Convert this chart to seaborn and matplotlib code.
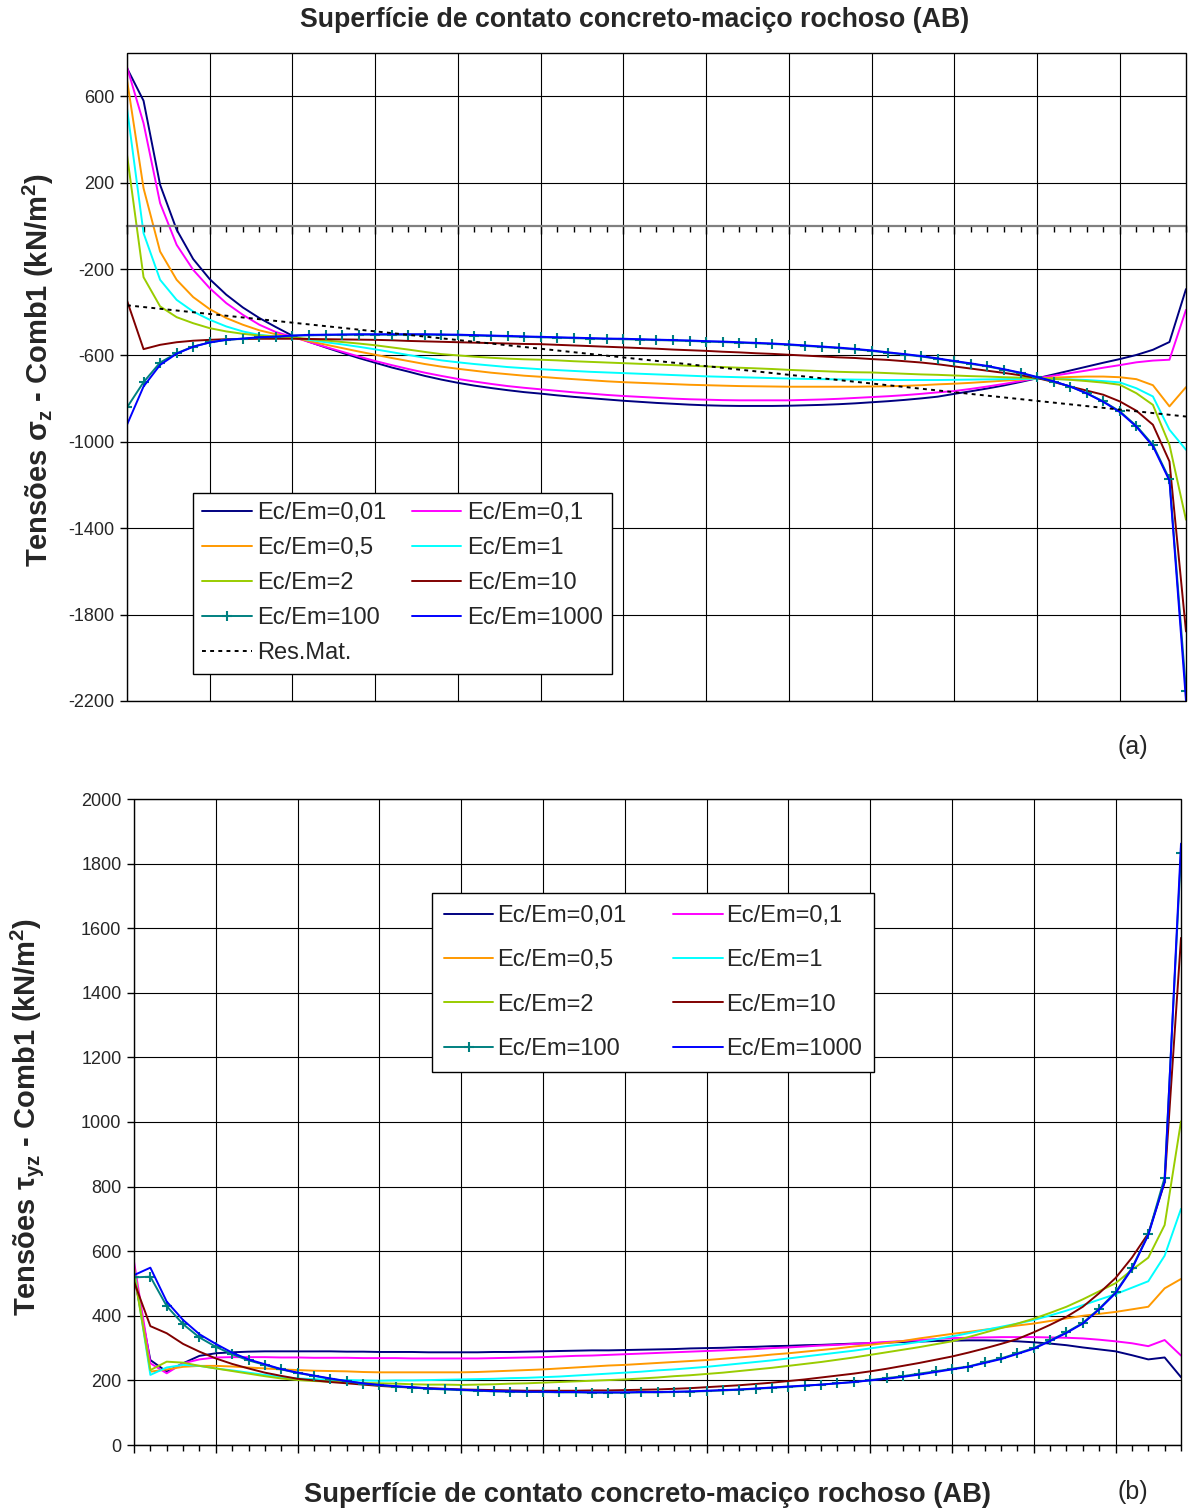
import numpy as np
import pandas as pd
import matplotlib
matplotlib.use("Agg")
import matplotlib.pyplot as plt
from matplotlib.patches import Rectangle
from matplotlib.ticker import MultipleLocator
import seaborn as sns

# pontos ao longo da superficie de contato AB (categorias do eixo x)
pontos = np.arange(65)

rotulos = ["Ec/Em=0,01", "Ec/Em=0,1", "Ec/Em=0,5", "Ec/Em=1",
           "Ec/Em=2", "Ec/Em=10", "Ec/Em=100", "Ec/Em=1000"]
cores = ["#000080", "#FF00FF", "#FF9900", "#00FFFF",
         "#99CC00", "#800000", "#008080", "#0000FF"]

# (a) tensoes sigma_z (kN/m2)
sz_001 = [730, 579, 190, -18, -154, -247, -319, -378, -427, -469,
          -509, -537, -563, -588, -612, -634, -656, -675, -695, -712,
          -727, -740, -751, -761, -770, -777, -785, -792, -798, -804,
          -810, -815, -820, -824, -828, -831, -833, -834, -834, -834,
          -833, -831, -829, -826, -822, -817, -812, -806, -799, -791,
          -778, -766, -753, -739, -723, -706, -688, -670, -652, -634,
          -617, -598, -574, -538, -293]
sz_01 = [735, 475, 105, -88, -204, -289, -358, -412, -458, -492,
         -514, -538, -561, -583, -605, -626, -645, -663, -680, -695,
         -709, -721, -732, -742, -750, -757, -764, -771, -777, -783,
         -788, -792, -796, -800, -803, -805, -807, -808, -808, -808,
         -808, -806, -804, -801, -797, -793, -789, -784, -778, -771,
         -765, -755, -744, -732, -719, -705, -694, -682, -670, -657,
         -645, -632, -624, -620, -389]
sz_05 = [676, 174, -119, -250, -330, -386, -427, -458, -484, -502,
         -516, -534, -550, -566, -582, -597, -612, -626, -640, -652,
         -662, -671, -680, -687, -694, -699, -705, -710, -715, -720,
         -724, -727, -730, -733, -736, -738, -740, -742, -743, -744,
         -745, -745, -745, -745, -745, -744, -743, -741, -738, -734,
         -731, -727, -722, -717, -712, -707, -703, -700, -698, -698,
         -701, -710, -738, -836, -747]
sz_1 = [545, -34, -250, -343, -397, -435, -466, -489, -505, -512,
        -517, -528, -539, -549, -560, -572, -585, -598, -611, -623,
        -632, -640, -647, -654, -659, -664, -668, -672, -676, -679,
        -682, -685, -688, -691, -694, -697, -699, -701, -703, -705,
        -707, -709, -710, -711, -712, -713, -714, -714, -714, -714,
        -713, -712, -711, -710, -709, -708, -709, -711, -714, -719,
        -725, -752, -790, -944, -1037]
sz_2 = [329, -238, -373, -423, -451, -474, -489, -500, -508, -512,
        -517, -524, -531, -538, -545, -553, -563, -573, -584, -594,
        -600, -606, -611, -615, -618, -620, -623, -627, -630, -633,
        -636, -639, -642, -645, -648, -651, -654, -657, -660, -663,
        -667, -670, -673, -676, -678, -679, -682, -685, -688, -690,
        -693, -696, -698, -701, -703, -705, -709, -713, -719, -726,
        -736, -775, -829, -1014, -1361]
sz_10 = [-346, -571, -551, -539, -532, -528, -525, -524, -523, -523,
         -523, -524, -525, -526, -527, -528, -530, -533, -535, -537,
         -539, -541, -543, -545, -547, -548, -551, -554, -557, -560,
         -563, -566, -569, -573, -576, -579, -583, -586, -590, -593,
         -597, -601, -605, -609, -612, -617, -621, -627, -633, -641,
         -651, -661, -671, -681, -692, -705, -723, -744, -763, -782,
         -813, -856, -921, -1091, -1878]
sz_100 = [-841, -724, -633, -590, -559, -540, -528, -523, -517, -515,
          -509, -507, -506, -505, -504, -504, -504, -504, -504, -505,
          -506, -508, -510, -512, -514, -516, -518, -520, -522, -524,
          -525, -527, -529, -531, -533, -536, -538, -541, -544, -547,
          -551, -556, -561, -566, -572, -579, -588, -596, -605, -616,
          -628, -639, -651, -666, -682, -702, -721, -744, -775, -813,
          -859, -926, -1014, -1173, -2153]
sz_1000 = [-921, -744, -644, -592, -560, -540, -528, -522, -516, -513,
           -508, -505, -504, -503, -502, -502, -502, -502, -502, -503,
           -504, -506, -508, -510, -512, -514, -516, -518, -520, -522,
           -523, -525, -527, -529, -531, -534, -536, -539, -542, -545,
           -549, -554, -559, -564, -570, -577, -586, -594, -603, -614,
           -626, -637, -649, -664, -680, -700, -720, -744, -776, -815,
           -862, -930, -1020, -1180, -2200]
# resistencia dos materiais: distribuicao linear
res_mat_x = [0, 64]
res_mat = [-368, -883]

# (b) tensoes tau_yz (kN/m2)
tau_001 = [525, 263, 227, 253, 276, 284, 287, 289, 290, 290,
           290, 290, 290, 289, 289, 288, 288, 288, 287, 287,
           287, 287, 288, 288, 289, 290, 291, 292, 293, 293,
           294, 295, 296, 297, 299, 300, 301, 303, 304, 306,
           307, 309, 310, 312, 314, 315, 317, 319, 320, 322,
           323, 324, 324, 323, 321, 318, 314, 309, 302, 296,
           290, 278, 265, 271, 210]
tau_01 = [568, 253, 222, 253, 265, 271, 272, 272, 272, 271,
          271, 270, 270, 270, 269, 269, 269, 268, 268, 268,
          268, 268, 269, 270, 271, 272, 274, 276, 277, 279,
          281, 283, 285, 287, 289, 291, 293, 295, 297, 300,
          302, 305, 308, 310, 313, 316, 319, 322, 325, 328,
          331, 332, 333, 334, 334, 334, 333, 332, 330, 326,
          321, 315, 306, 325, 277]
tau_05 = [552, 227, 234, 242, 245, 245, 243, 240, 237, 234,
          232, 230, 229, 228, 226, 225, 225, 225, 225, 225,
          225, 226, 228, 230, 232, 234, 237, 240, 243, 246,
          248, 251, 254, 257, 260, 263, 267, 271, 275, 280,
          284, 289, 294, 299, 305, 310, 316, 322, 330, 337,
          344, 350, 357, 363, 370, 376, 384, 392, 400, 406,
          412, 420, 428, 485, 514]
tau_1 = [542, 217, 240, 248, 245, 237, 231, 224, 217, 211,
         206, 204, 202, 201, 200, 199, 200, 200, 201, 202,
         203, 204, 205, 207, 208, 210, 212, 215, 218, 221,
         224, 227, 231, 234, 238, 242, 247, 252, 257, 262,
         268, 274, 280, 286, 292, 299, 306, 312, 319, 327,
         336, 346, 356, 366, 376, 387, 401, 416, 433, 450,
         467, 487, 507, 586, 731]
tau_2 = [531, 232, 258, 255, 245, 237, 229, 221, 213, 206,
         201, 198, 196, 194, 192, 191, 190, 188, 187, 187,
         186, 187, 188, 190, 191, 193, 195, 197, 199, 201,
         203, 206, 209, 213, 216, 220, 224, 229, 234, 239,
         245, 251, 257, 264, 271, 279, 287, 295, 303, 312,
         321, 334, 348, 362, 376, 391, 409, 428, 451, 476,
         501, 542, 580, 681, 1002]
tau_10 = [506, 368, 346, 313, 289, 268, 251, 237, 224, 214,
          205, 200, 195, 191, 187, 183, 180, 178, 176, 174,
          172, 171, 170, 169, 168, 168, 168, 168, 169, 169,
          170, 171, 172, 174, 176, 179, 182, 185, 189, 193,
          198, 203, 209, 215, 221, 228, 236, 245, 254, 264,
          274, 286, 299, 313, 328, 349, 372, 397, 428, 470,
          517, 580, 655, 813, 1570]
tau_100 = [519, 521, 430, 374, 333, 304, 281, 262, 248, 234,
           223, 214, 205, 197, 190, 185, 181, 178, 174, 172,
           170, 168, 166, 165, 164, 164, 163, 163, 162, 162,
           162, 163, 163, 164, 165, 167, 169, 171, 174, 177,
           180, 183, 187, 191, 195, 201, 207, 213, 221, 228,
           236, 243, 256, 268, 284, 300, 324, 349, 378, 422,
           473, 548, 652, 828, 1834]
tau_1000 = [526, 549, 444, 387, 343, 313, 286, 265, 250, 235,
            224, 215, 206, 198, 191, 186, 182, 179, 175, 173,
            171, 169, 167, 166, 165, 165, 164, 164, 163, 163,
            163, 164, 164, 165, 166, 168, 170, 172, 175, 178,
            181, 184, 187, 191, 195, 200, 205, 211, 218, 226,
            234, 242, 254, 266, 282, 298, 322, 347, 376, 420,
            470, 545, 650, 815, 1862]

serie_a = [sz_001, sz_01, sz_05, sz_1, sz_2, sz_10, sz_100, sz_1000]
serie_b = [tau_001, tau_01, tau_05, tau_1, tau_2, tau_10, tau_100, tau_1000]

sns.set_style("white")
plt.rcParams['font.family'] = ['Liberation Sans', 'DejaVu Sans']
plt.rcParams['mathtext.fontset'] = 'custom'
plt.rcParams['mathtext.rm'] = 'Liberation Sans'
plt.rcParams['mathtext.bf'] = 'Liberation Sans:bold'
plt.rcParams['axes.unicode_minus'] = False

W, H = 1190, 1510
fig = plt.figure(figsize=(W / 100, H / 100), dpi=100)
ax1 = fig.add_axes([127 / W, 1 - 701 / H, 1059 / W, 648 / H])
ax2 = fig.add_axes([134 / W, 1 - 1445 / H, 1047 / W, 646 / H])


def desenha(ax, series):
    linhas = []
    for vals, cor, rot in zip(series, cores, rotulos):
        sns.lineplot(x=pontos, y=vals, ax=ax, color=cor, lw=1.4,
                     label=rot, legend=False)
        ln = ax.lines[-1]
        ln.set_linestyle('-')
        if rot == "Ec/Em=100":
            # serie com marcadores "+"
            ln.set_marker('+')
            ln.set_markersize(7)
            ln.set_markeredgewidth(1.5)
            ln.set_markeredgecolor(cor)
        linhas.append(ln)
    return linhas


def estilo(ax):
    ax.set_xlim(0, 64)
    ax.xaxis.set_major_locator(MultipleLocator(5))
    ax.xaxis.set_minor_locator(MultipleLocator(1))
    ax.grid(True, which='major', color='black', lw=0.8)
    ax.grid(False, which='minor')
    ax.tick_params(axis='x', which='major', direction='out', length=6,
                   width=1, color='black', labelbottom=False, bottom=True)
    ax.tick_params(axis='x', which='minor', direction='out', length=4,
                   width=1, color='black', bottom=True)
    ax.tick_params(axis='y', direction='out', length=5, width=1,
                   color='black', labelsize=13, pad=4, left=True)
    ax.set_xlabel("")
    ax.set_ylabel("")
    for s in ['top', 'right', 'left']:
        ax.spines[s].set_visible(False)
    ax.add_patch(Rectangle((0, 0), 1, 1, transform=ax.transAxes,
                           fill=False, ec='black', lw=1.0, clip_on=False,
                           zorder=5))


# ---- painel (a)
la = desenha(ax1, serie_a)
sns.lineplot(x=res_mat_x, y=res_mat, ax=ax1, color='black', lw=1.4,
             label="Res.Mat.", legend=False)
ax1.lines[-1].set_linestyle((0, (2, 2.2)))
la.append(ax1.lines[-1])
estilo(ax1)
ax1.set_ylim(-2200, 800)
ax1.set_yticks(np.arange(-2200, 601, 400))
ax1.spines['bottom'].set_position(('data', 0))
ax1.spines['bottom'].set_color('#808080')
ax1.spines['bottom'].set_linewidth(1.6)

ordem_a = [0, 2, 4, 6, 8, 1, 3, 5, 7]
leg = ax1.legend([la[k] for k in ordem_a], [la[k].get_label() for k in ordem_a],
                 ncol=2, loc='upper left', bbox_to_anchor=(0.062, 0.321),
                 fontsize=17, frameon=True, fancybox=False, edgecolor='black',
                 framealpha=1, handlelength=2.1, handletextpad=0.25,
                 columnspacing=1.05, labelspacing=0.55, borderpad=0.4,
                 borderaxespad=0, numpoints=1)
leg.get_frame().set_linewidth(1.0)

# ---- painel (b)
lb = desenha(ax2, serie_b)
estilo(ax2)
ax2.set_ylim(0, 2000)
ax2.set_yticks(np.arange(0, 2001, 200))

ordem_b = [0, 2, 4, 6, 1, 3, 5, 7]
leg = ax2.legend([lb[k] for k in ordem_b], [lb[k].get_label() for k in ordem_b],
                 ncol=2, loc='upper left', bbox_to_anchor=(0.2846, 0.8545),
                 fontsize=17, frameon=True, fancybox=False, edgecolor='black',
                 framealpha=1, handlelength=2.1, handletextpad=0.15,
                 columnspacing=2.0, labelspacing=0.95, borderpad=0.5,
                 borderaxespad=0, numpoints=1)
leg.get_frame().set_linewidth(1.0)

# ---- textos
titulo = "Superfície de contato concreto-maciço rochoso (AB)"
fig.text(635 / W, 1 - 20 / H, titulo, ha='center', va='center',
         fontsize=19.3, fontweight='bold')
fig.text(647 / W, 1 - 1495 / H, titulo, ha='center', va='center',
         fontsize=19.7, fontweight='bold')
fig.text(38 / W, 1 - 370 / H, r"Tensões σ$_\mathbf{z}$ - Comb1 (kN/m$^\mathbf{2}$)",
         rotation=90, ha='center', va='center', fontsize=21, fontweight='bold')
fig.text(27 / W, 1 - 1117 / H, r"Tensões τ$_\mathbf{yz}$ - Comb1 (kN/m$^\mathbf{2}$)",
         rotation=90, ha='center', va='center', fontsize=21, fontweight='bold')
fig.text(1133 / W, 1 - 747 / H, "(a)", ha='center', va='center', fontsize=18)
fig.text(1133 / W, 1 - 1492 / H, "(b)", ha='center', va='center', fontsize=18)

fig.savefig("out.png", dpi=100)
